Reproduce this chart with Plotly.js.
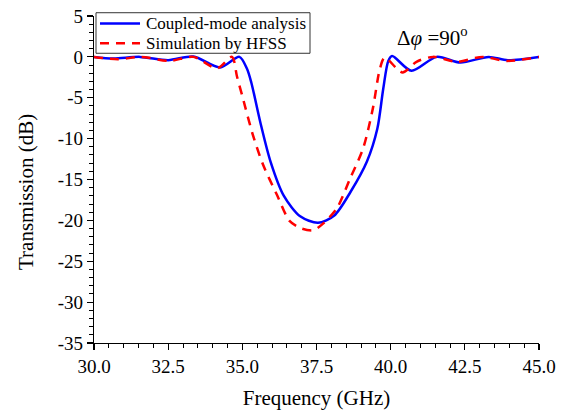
<!DOCTYPE html>
<html>
<head>
<meta charset="utf-8">
<script src="https://cdn.plot.ly/plotly-3.0.1.min.js"></script>
<style>html,body{margin:0;padding:0;background:#fff;}#chart{width:562px;height:411px;}</style>
</head>
<body>
<div id="chart"></div>
<script>
const blueFreq = [30, 30.65, 31.55, 32.5, 33.35, 34.25, 34.9, 35.15, 35.3, 35.6, 35.95, 36.4, 36.95, 37.55, 38.1, 38.65, 39.2, 39.55, 39.75, 39.92, 40.05, 40.7, 41.55, 42.35, 43.3, 43.95, 45];
const blueDb   = [0, -0.2, 0, -0.4, 0.05, -1.3, 0, -1.4, -3.1, -7.9, -12.8, -17.0, -19.5, -20.3, -19.4, -16.5, -12.8, -8.8, -3.9, -0.5, 0.1, -1.7, 0, -0.7, 0, -0.4, 0];
const redFreq  = [30, 30.8, 31.6, 32.55, 33.35, 34.15, 34.65, 34.82, 35.0, 35.36, 35.7, 36.17, 36.6, 37.0, 37.4, 37.72, 38.19, 38.63, 39.07, 39.4, 39.64, 39.8, 40.4, 40.87, 41.43, 42.23, 43.1, 43.9, 45];
const redDb    = [0, -0.3, 0, -0.5, 0, -1.4, 0, -2.4, -4.8, -9.6, -13.2, -16.9, -20.1, -21.0, -21.2, -20.4, -18.5, -14.9, -11.2, -6.3, -1.4, -0.1, -1.9, -0.6, 0, -0.6, 0, -0.5, 0];
const seriesNames = ["Coupled-mode analysis", "Simulation by HFSS"];
const yTickVals = [5, 0, -5, -10, -15, -20, -25, -30, -35];
const yTickText = ["5", "0", "-5", "-10", "-15", "-20", "-25", "-30", "-35"];
const xTickVals = [30, 32.5, 35, 37.5, 40, 42.5, 45];
const xTickText = ["30.0", "32.5", "35.0", "37.5", "40.0", "42.5", "45.0"];

const font = '"Times New Roman", "Liberation Serif", Times, serif';
const blue = "#0000ff", red = "#ff0000", redDash = "9px,7px";
const traces = [
  {x: blueFreq, y: blueDb, name: seriesNames[0], mode: "lines",
   line: {color: blue, width: 2.5, shape: "spline", smoothing: 0.8}},
  {x: redFreq, y: redDb, name: seriesNames[1], mode: "lines",
   line: {color: red, width: 2.5, dash: redDash, shape: "spline", smoothing: 0.8}}
];
const axisCommon = {
  showgrid: false, zeroline: false, showline: true, linecolor: "#000", linewidth: 1.2,
  ticks: "outside", ticklen: 6, tickwidth: 1.2, tickcolor: "#000",
  tickfont: {family: font, size: 19, color: "#000"}, tickmode: "array", automargin: false
};
// manual legend (box + samples + labels) in paper coordinates
const lgX0 = 0.0045, lgX1 = 0.4854, lgY0 = 0.886, lgY1 = 1.010;
const rowY = [0.977, 0.9165];
const sampleX0 = 0.0135, sampleX1 = 0.1034, textX = 0.1124;
const layout = {
  width: 562, height: 411,
  margin: {l: 94, r: 23, t: 16, b: 68},
  paper_bgcolor: "#fff", plot_bgcolor: "#fff",
  font: {family: font, color: "#000"},
  showlegend: false,
  xaxis: Object.assign({}, axisCommon, {
    range: [30, 45], tickvals: xTickVals, ticktext: xTickText,
    minor: {dtick: 0.5, ticklen: 4, tickwidth: 1, tickcolor: "#000", ticks: "outside"},
    title: {text: "Frequency (GHz)", font: {family: font, size: 21, color: "#000"}, standoff: 14}
  }),
  yaxis: Object.assign({}, axisCommon, {
    range: [-35, 5], tickvals: yTickVals, ticktext: yTickText,
    minor: {dtick: 1, ticklen: 4, tickwidth: 1, tickcolor: "#000", ticks: "outside"}
  }),
  shapes: [
    {type: "rect", xref: "paper", yref: "paper", x0: lgX0, x1: lgX1, y0: lgY0, y1: lgY1,
     fillcolor: "#fff", line: {color: "#333", width: 1}, layer: "above"},
    {type: "line", xref: "paper", yref: "paper", x0: sampleX0, x1: sampleX1, y0: rowY[0], y1: rowY[0],
     line: {color: blue, width: 2.5}, layer: "above"},
    {type: "line", xref: "paper", yref: "paper", x0: sampleX0, x1: sampleX1, y0: rowY[1], y1: rowY[1],
     line: {color: red, width: 2.5, dash: redDash}, layer: "above"}
  ],
  annotations: [
    {x: textX, y: rowY[0], xref: "paper", yref: "paper", xanchor: "left", yanchor: "middle",
     showarrow: false, text: seriesNames[0], font: {family: font, size: 17, color: "#000"}},
    {x: textX, y: rowY[1], xref: "paper", yref: "paper", xanchor: "left", yanchor: "middle",
     showarrow: false, text: seriesNames[1], font: {family: font, size: 17, color: "#000"}},
    {x: 41.4, y: 2.5, xref: "x", yref: "y", showarrow: false,
     text: "Δ<i>φ</i> =90<sup>o</sup>", font: {family: font, size: 21, color: "#000"}},
    {x: -0.1528, y: 0.4618, xref: "paper", yref: "paper", xanchor: "center", yanchor: "middle",
     textangle: -90, showarrow: false, text: "Transmission (dB)",
     font: {family: font, size: 21, color: "#000"}}
  ]
};
Plotly.newPlot("chart", traces, layout, {displayModeBar: false, staticPlot: true});
</script>
</body>
</html>
